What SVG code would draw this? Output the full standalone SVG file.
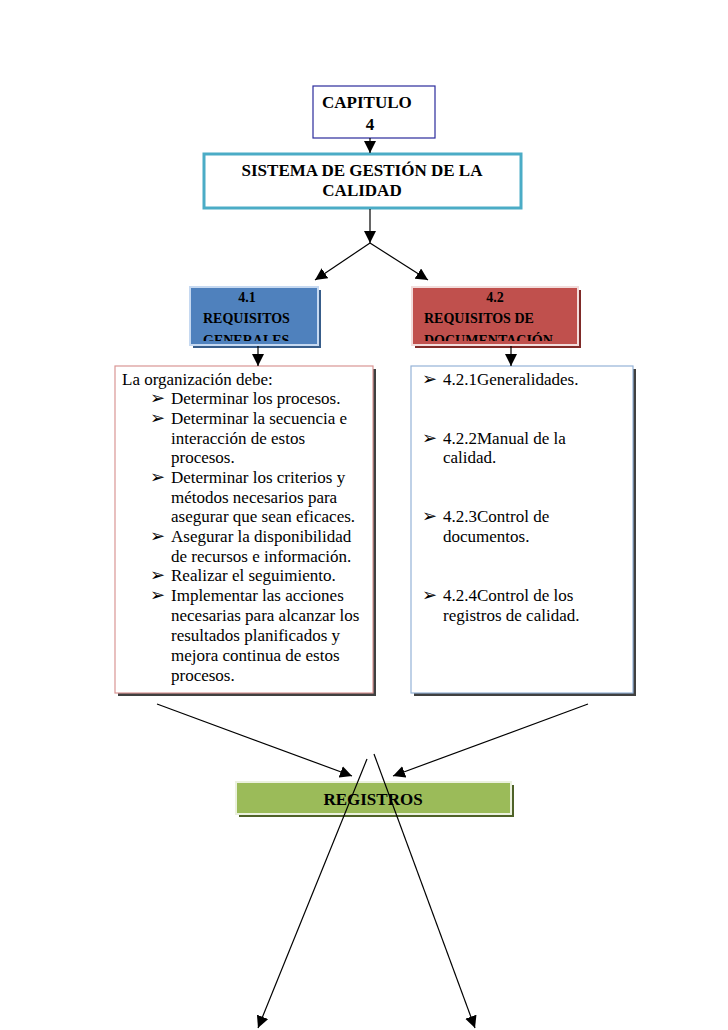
<svg xmlns="http://www.w3.org/2000/svg" width="728" height="1030" viewBox="0 0 728 1030">
<style>
.t{font-family:"Liberation Serif","Times New Roman",serif;fill:#000}
.b{font-weight:bold}
.body{font-size:17px}
.bul{font-size:18px}
.conn{stroke:#000;stroke-width:1.2;fill:none}
</style>
<defs>
<marker id="ah" markerWidth="12" markerHeight="12" refX="12" refY="6" orient="auto" markerUnits="userSpaceOnUse">
<path d="M0,0 L12,6 L0,12 z" fill="#000"/>
</marker>
<clipPath id="c41"><rect x="192" y="289" width="124" height="52"/></clipPath>
<clipPath id="c42"><rect x="414" y="289" width="162" height="52"/></clipPath>
</defs>
<rect width="728" height="1030" fill="#fff"/>

<g id="capitulo">
<rect x="313" y="86" width="122" height="52" fill="#fff" stroke="#2b2b9c" stroke-width="1.2"/>
<text class="t b" x="322" y="108" font-size="17">CAPITULO</text>
<text class="t b" x="370" y="130" font-size="17" text-anchor="middle">4</text>
</g>

<g id="sgc">
<rect x="204" y="154" width="317" height="54" fill="#fff" stroke="#4bacc6" stroke-width="3"/>
<text class="t b" x="362" y="176" font-size="17" text-anchor="middle">SISTEMA DE GESTIÓN DE LA</text>
<text class="t b" x="362" y="196" font-size="17" text-anchor="middle">CALIDAD</text>
</g>

<g id="req41">
<rect x="193" y="290" width="128" height="58" fill="#385d8a"/>
<rect x="190" y="287" width="128" height="58" fill="#4f81bd" stroke="#c6d9f1" stroke-width="2"/>
<g clip-path="url(#c41)" class="t b" font-size="14" fill="#111">
<text x="247" y="302" text-anchor="middle">4.1</text>
<text x="203" y="323">REQUISITOS</text>
<text x="203" y="345">GENERALES</text>
</g>
</g>

<g id="req42">
<rect x="415" y="290" width="166" height="58" fill="#7f2a28"/>
<rect x="412" y="287" width="166" height="58" fill="#c0504d" stroke="#f2dcdb" stroke-width="2"/>
<g clip-path="url(#c42)" class="t b" font-size="14" fill="#111">
<text x="495" y="302" text-anchor="middle">4.2</text>
<text x="424" y="323">REQUISITOS DE</text>
<text x="424" y="345">DOCUMENTACIÓN</text>
</g>
</g>

<g id="lista41">
<rect x="118" y="369" width="258" height="327" fill="#404040"/>
<rect x="115" y="366" width="258" height="327" fill="#fff" stroke="#d99694" stroke-width="1.2"/>
<g class="t body">
<text x="122" y="385">La organización debe:</text>
<text class="bul" x="150" y="404">➢</text><text x="171" y="404">Determinar los procesos.</text>
<text class="bul" x="150" y="424">➢</text><text x="171" y="424">Determinar la secuencia e</text>
<text x="171" y="444">interacción de estos</text>
<text x="171" y="463">procesos.</text>
<text class="bul" x="150" y="483">➢</text><text x="171" y="483">Determinar los criterios y</text>
<text x="171" y="503">métodos necesarios para</text>
<text x="171" y="522">asegurar que sean eficaces.</text>
<text class="bul" x="150" y="542">➢</text><text x="171" y="542">Asegurar la disponibilidad</text>
<text x="171" y="562">de recursos e información.</text>
<text class="bul" x="150" y="581">➢</text><text x="171" y="581">Realizar el seguimiento.</text>
<text class="bul" x="150" y="601">➢</text><text x="171" y="601">Implementar las acciones</text>
<text x="171" y="621">necesarias para alcanzar los</text>
<text x="171" y="641">resultados planificados y</text>
<text x="171" y="661">mejora continua de estos</text>
<text x="171" y="681">procesos.</text>
</g>
</g>

<g id="lista42">
<rect x="414" y="369" width="222" height="327" fill="#404040"/>
<rect x="411" y="366" width="222" height="327" fill="#fff" stroke="#95b3d7" stroke-width="1.2"/>
<g class="t body">
<text class="bul" x="422" y="385">➢</text><text x="443" y="385">4.2.1Generalidades.</text>
<text class="bul" x="422" y="444">➢</text><text x="443" y="444">4.2.2Manual de la</text>
<text x="443" y="463">calidad.</text>
<text class="bul" x="422" y="522">➢</text><text x="443" y="522">4.2.3Control de</text>
<text x="443" y="542">documentos.</text>
<text class="bul" x="422" y="601">➢</text><text x="443" y="601">4.2.4Control de los</text>
<text x="443" y="621">registros de calidad.</text>
</g>
</g>

<g id="registros">
<rect x="239" y="785" width="275" height="32" fill="#4f6228"/>
<rect x="236" y="782" width="275" height="32" fill="#9bbb59" stroke="#ebf1de" stroke-width="2"/>
<text class="t b" x="373" y="805" font-size="17" text-anchor="middle">REGISTROS</text>
</g>

<g id="connectors" class="conn">
<line x1="370" y1="138" x2="370" y2="153" marker-end="url(#ah)"/>
<line x1="370" y1="209" x2="370" y2="243" marker-end="url(#ah)"/>
<line x1="370" y1="243" x2="315" y2="280" marker-end="url(#ah)"/>
<line x1="370" y1="243" x2="428" y2="280" marker-end="url(#ah)"/>
<line x1="258" y1="346" x2="258" y2="366" marker-end="url(#ah)"/>
<line x1="511" y1="346" x2="511" y2="366" marker-end="url(#ah)"/>
<line x1="157" y1="704" x2="352" y2="776" marker-end="url(#ah)"/>
<line x1="588" y1="704" x2="393" y2="776" marker-end="url(#ah)"/>
<line x1="367" y1="759" x2="258" y2="1028" marker-end="url(#ah)"/>
<line x1="374" y1="754" x2="475" y2="1028" marker-end="url(#ah)"/>
</g>
</svg>
